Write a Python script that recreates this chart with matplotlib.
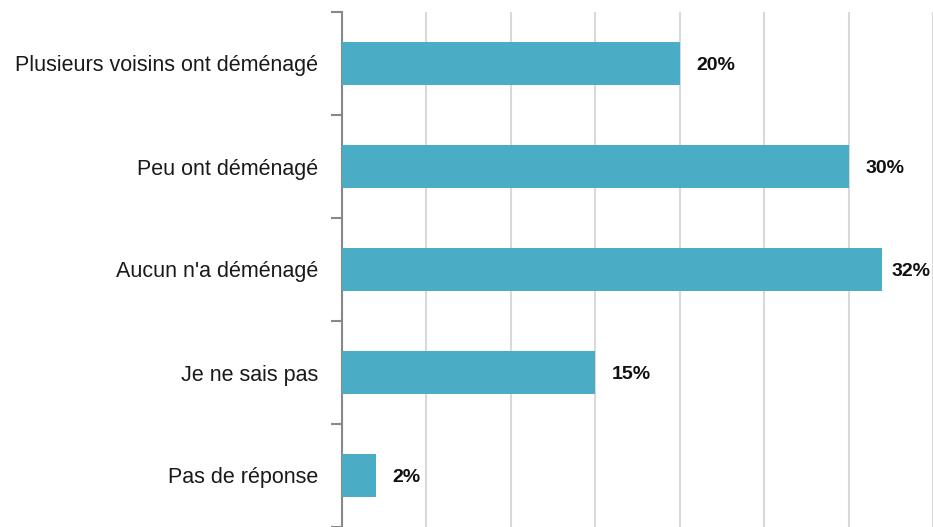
import matplotlib
matplotlib.use("Agg")
import matplotlib.pyplot as plt
import numpy as np

plt.rcParams['font.family'] = ['Liberation Sans', 'DejaVu Sans']

categories = ["Plusieurs voisins ont déménagé", "Peu ont déménagé", "Aucun n'a déménagé",
              "Je ne sais pas", "Pas de réponse"]
values = [20, 30, 32, 15, 2]

fig = plt.figure(figsize=(9.33, 5.27), dpi=100)
ax = fig.add_axes([342/933, 0, 1 - 342/933, 1 - 12/527])

y = np.arange(len(categories))
ax.barh(y, values, height=0.41, color='#4bacc6', zorder=3)

ax.set_xlim(0, 35)
ax.set_ylim(len(categories) - 0.5, -0.5)
ax.set_xticks(np.arange(0, 36, 5))
ax.tick_params(axis='x', length=0, labelbottom=False)
ax.grid(axis='x', color='#d9d9d9', linewidth=1.5, zorder=0)

# category labels, tick marks between categories
ax.set_yticks(y)
ax.set_yticklabels(categories, fontsize=15.5, color='#1a1a1a')
ax.tick_params(axis='y', which='major', length=0, pad=17)
ax.set_yticks(np.arange(-0.5, len(categories), 1), minor=True)
ax.tick_params(axis='y', which='minor', length=8, width=1.5, color='#888888', direction='out')

for s in ['top', 'right', 'bottom']:
    ax.spines[s].set_visible(False)
ax.spines['left'].set_color('#888888')
ax.spines['left'].set_linewidth(1.5)

# value labels; the widest one is pulled back so it stays inside the figure
for yi, v in zip(y, values):
    if v > 31:
        ax.annotate(f"{v}%", xy=(35, yi), xytext=(-2, -1.5), textcoords='offset points',
                    va='center', ha='right', fontsize=14, fontweight='bold', color='#111111')
    else:
        ax.annotate(f"{v}%", xy=(v, yi), xytext=(12, -1.5), textcoords='offset points',
                    va='center', ha='left', fontsize=14, fontweight='bold', color='#111111')

fig.savefig("out.png", dpi=100)
